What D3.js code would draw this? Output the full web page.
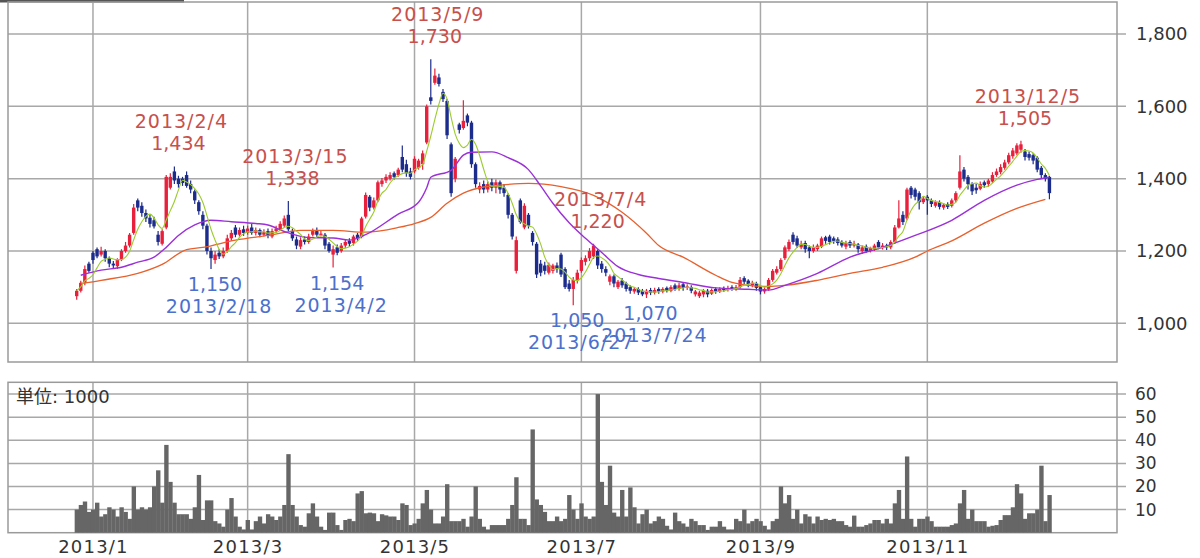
<!DOCTYPE html>
<html><head><meta charset="utf-8">
<script src="https://cdn.jsdelivr.net/npm/d3@7"></script>
<style>body{margin:0;background:#fff}svg{display:block}</style>
</head><body><svg id="c" width="1200" height="558"></svg>
<script>
// ---- categories: Tokyo trading days 2012-12-25 .. 2013-12-16
const firstDay = "2012-12-25", lastDay = "2013-12-16";
const holidays = ["2012-12-31","2013-01-01","2013-01-02","2013-01-03","2013-01-14","2013-02-11","2013-03-20","2013-04-29","2013-05-03","2013-05-06","2013-07-15","2013-09-16","2013-09-23","2013-10-14","2013-11-04","2013-12-23"];

// ---- series values (one entry per trading day)
const opens = [1075,1090,1112,1165,1195,1205,1190,1200,1180,1165,1158,1178,1200,1215,1250,1340,1325,1305,1292,1285,1245,1220,1265,1375,1420,1400,1400,1410,1385,1365,1335,1300,1270,1200,1175,1195,1185,1200,1235,1265,1245,1260,1250,1265,1250,1258,1245,1255,1240,1255,1260,1270,1300,1255,1232,1212,1232,1225,1245,1255,1245,1245,1220,1190,1210,1200,1215,1228,1222,1245,1240,1295,1350,1320,1340,1385,1395,1400,1415,1410,1460,1440,1420,1420,1430,1440,1500,1625,1665,1680,1640,1615,1495,1400,1550,1540,1575,1555,1440,1370,1385,1370,1390,1375,1390,1375,1355,1300,1145,1340,1265,1300,1250,1220,1165,1160,1140,1145,1160,1190,1150,1110,1095,1120,1145,1170,1180,1185,1200,1165,1150,1115,1130,1100,1118,1110,1100,1088,1095,1090,1080,1092,1085,1095,1088,1098,1090,1105,1095,1108,1098,1100,1080,1075,1080,1090,1082,1095,1088,1098,1092,1100,1095,1100,1125,1118,1105,1110,1100,1088,1095,1120,1140,1150,1180,1205,1245,1235,1210,1222,1210,1200,1205,1212,1238,1240,1235,1232,1225,1212,1225,1215,1218,1200,1212,1200,1205,1225,1208,1215,1210,1225,1265,1300,1290,1375,1370,1360,1335,1350,1340,1325,1335,1320,1330,1325,1340,1375,1425,1405,1385,1375,1372,1390,1385,1392,1410,1418,1430,1445,1462,1470,1480,1475,1468,1465,1458,1430,1410,1405];
const highs = [1095,1118,1160,1170,1200,1210,1212,1205,1185,1172,1180,1205,1225,1250,1330,1345,1335,1315,1300,1295,1255,1260,1410,1415,1434,1408,1405,1420,1395,1370,1340,1310,1275,1210,1200,1205,1210,1245,1258,1272,1265,1270,1270,1275,1265,1262,1260,1262,1262,1270,1282,1298,1338,1262,1240,1238,1240,1248,1262,1265,1255,1250,1225,1215,1218,1222,1232,1235,1245,1250,1295,1362,1355,1348,1395,1402,1412,1418,1420,1430,1492,1452,1430,1462,1455,1478,1605,1730,1705,1690,1648,1620,1500,1460,1555,1617,1580,1560,1445,1390,1395,1392,1400,1398,1395,1385,1360,1305,1240,1345,1332,1305,1255,1225,1175,1170,1168,1165,1168,1195,1155,1120,1128,1148,1182,1188,1208,1220,1205,1172,1158,1135,1135,1120,1125,1115,1105,1100,1100,1095,1095,1098,1098,1100,1100,1102,1105,1110,1112,1112,1108,1105,1092,1090,1095,1095,1096,1100,1100,1102,1104,1105,1106,1128,1130,1122,1118,1115,1105,1100,1125,1150,1158,1180,1215,1232,1252,1242,1228,1228,1215,1218,1220,1240,1242,1245,1240,1238,1230,1228,1230,1228,1222,1215,1218,1212,1220,1230,1222,1220,1230,1272,1340,1310,1375,1380,1375,1365,1352,1355,1345,1340,1340,1332,1335,1345,1365,1465,1432,1410,1390,1385,1392,1395,1400,1418,1428,1440,1452,1472,1485,1498,1505,1482,1475,1470,1462,1435,1415,1408];
const lows = [1065,1085,1105,1140,1165,1180,1185,1170,1155,1150,1150,1172,1195,1210,1245,1310,1295,1280,1265,1262,1215,1215,1260,1370,1385,1375,1380,1375,1360,1330,1300,1260,1190,1150,1165,1178,1180,1195,1228,1238,1240,1242,1245,1245,1243,1238,1240,1235,1235,1250,1255,1265,1255,1228,1205,1205,1218,1220,1240,1238,1240,1205,1195,1154,1188,1195,1208,1212,1215,1228,1235,1290,1310,1315,1335,1378,1388,1395,1398,1405,1418,1405,1398,1415,1425,1425,1495,1605,1660,1655,1612,1510,1350,1390,1525,1535,1545,1430,1375,1360,1360,1362,1365,1360,1358,1350,1290,1232,1138,1275,1260,1262,1215,1125,1130,1135,1135,1138,1140,1128,1095,1088,1050,1110,1140,1160,1172,1178,1150,1140,1130,1105,1100,1095,1098,1088,1082,1082,1078,1075,1070,1078,1080,1082,1083,1085,1086,1090,1090,1090,1092,1083,1074,1070,1072,1072,1078,1082,1084,1087,1088,1090,1090,1096,1108,1100,1100,1090,1080,1082,1090,1115,1135,1145,1175,1200,1218,1208,1205,1195,1180,1195,1200,1208,1220,1218,1220,1215,1210,1205,1208,1210,1195,1192,1195,1196,1200,1205,1204,1203,1205,1220,1262,1272,1285,1345,1340,1315,1330,1300,1322,1320,1315,1314,1316,1320,1335,1370,1392,1370,1355,1358,1368,1375,1378,1388,1405,1412,1425,1440,1455,1465,1472,1450,1450,1440,1418,1400,1392,1343];
const closes = [1090,1112,1150,1145,1175,1185,1200,1180,1165,1160,1175,1200,1215,1245,1320,1320,1305,1290,1275,1268,1225,1255,1405,1405,1395,1385,1388,1380,1370,1340,1310,1270,1200,1180,1190,1185,1200,1235,1250,1245,1258,1250,1262,1250,1258,1245,1252,1242,1255,1262,1275,1290,1260,1235,1215,1230,1225,1240,1255,1245,1248,1215,1200,1205,1195,1215,1225,1220,1240,1235,1290,1355,1320,1340,1390,1395,1405,1410,1405,1425,1425,1415,1405,1455,1450,1470,1600,1615,1685,1662,1620,1520,1360,1455,1535,1560,1555,1440,1385,1380,1370,1385,1375,1390,1370,1360,1300,1240,1230,1280,1325,1270,1225,1135,1140,1145,1162,1160,1150,1135,1100,1095,1120,1140,1175,1180,1200,1215,1160,1150,1140,1130,1110,1115,1105,1095,1090,1095,1085,1080,1090,1085,1092,1088,1095,1090,1100,1095,1105,1098,1102,1090,1088,1085,1090,1080,1092,1088,1095,1092,1098,1095,1100,1120,1115,1108,1112,1098,1088,1095,1120,1145,1150,1175,1210,1225,1225,1215,1220,1205,1200,1210,1215,1235,1228,1225,1228,1222,1215,1222,1215,1220,1205,1210,1200,1208,1215,1210,1215,1210,1225,1265,1290,1280,1370,1355,1350,1335,1345,1340,1330,1335,1322,1328,1322,1340,1360,1420,1400,1385,1365,1368,1385,1382,1395,1410,1420,1432,1445,1465,1478,1492,1495,1460,1458,1450,1425,1410,1400,1360];
const volumes = [10,12,13.5,9,10,13,7,8,11,10,7,11,9,6,20,10,11,10,11,20,27,13,38,22,13,8,8,8,6,11,25,5.5,14,14,5,4,2.6,10,15,7,2.6,1.4,5.5,1.4,5,7,4,8,7,5.5,7,12,34,12,7,3.3,2.6,8.4,12.7,7,2.6,1.2,8.7,8.7,3.3,1.2,5.5,6,5,17,18,8.4,8.7,8.4,5,8,7.5,7,7,5.5,12.7,12,3.3,4,6,12.7,18.5,10,4,4,7,21,5,5,5,6,2.6,7,20,6,2.6,1.4,3.3,3.3,3.3,3.3,6,12,24,6,6,3.3,44.7,14.4,12,9,5,5,7,5,6,16.3,10,6,12.7,7,6,7,60,
22,12,29,8.7,7,18.5,7,19.6,11,4,8,10,4,5,7,6,3,1.4,8.7,5,4,2.6,6,5,3.3,3.3,1.2,2.6,2.6,5,2.6,1.4,1.4,6,5,10,4,5,6,5,3,1.4,5,6,20,12.7,16.3,6,10,4,8,7,4,7,5.5,6,5.5,6,5,5,3.3,2.6,7.4,2.6,2.6,3.3,4,5.5,5.5,4,6,4,12.7,18.5,6,33,6,2.6,6,6,7,5,2.6,2.6,2.6,2.6,3.3,4,12.7,18.5,6,10,5,5,5,2.6,3,3.3,5.5,7.6,7.6,11,21,17,6,8.4,8.4,10,29,5,16.3];

// moving averages (trading-day index, value)
const ma25Index = [1,6,11,15,19,22,25,29,33,38,44,47,51,57,63,67,71,79,84,86,87,92,95,97,102,106,111,114,117,121,125,129,133,138,143,149,157,165,170,174,182,190,198,206,215,223,231,236,239];
const ma25Value = [1133,1147,1155,1169,1183,1210,1243,1272,1285,1281,1276,1272,1254,1237,1236,1230,1245,1302,1335,1375,1404,1423,1465,1473,1474,1458,1425,1380,1332,1278,1235,1196,1157,1135,1124,1113,1098,1094,1092,1105,1138,1183,1210,1243,1285,1340,1382,1398,1404];
const ma75Index = [1,6,15,21,27,31,39,47,55,63,71,79,83,87,91,95,100,104,111,119,127,134,140,143,149,157,161,165,170,174,182,190,198,206,209,215,223,231,238];
const ma75Value = [1110,1119,1138,1163,1204,1210,1230,1243,1257,1257,1252,1265,1276,1293,1332,1360,1377,1382,1387,1378,1354,1307,1249,1215,1183,1133,1113,1105,1102,1105,1119,1138,1155,1183,1200,1228,1277,1318,1343];

const priceTicks = [1000,1200,1400,1600,1800];
const volumeTicks = [10,20,30,40,50,60];
const monthTickDates = ["2013-01-04","2013-03-01","2013-05-01","2013-07-01","2013-09-02","2013-11-01"];
const monthTickLabels = ["2013/1","2013/3","2013/5","2013/7","2013/9","2013/11"];
const highNoteDates = ["2013-02-04","2013-03-15","2013-05-09","2013-07-04","2013-12-05"];
const highNoteLabels = ["2013/2/4","2013/3/15","2013/5/9","2013/7/4","2013/12/5"];
const lowNoteDates = ["2013-02-18","2013-04-02","2013-06-27","2013-07-24"];
const lowNoteLabels = ["2013/2/18","2013/4/2","2013/6/27","2013/7/24"];
const volumeUnit = "単位: 1000";

// ---- build trading dates
const fmt = d3.utcFormat("%Y-%m-%d");
const dates = d3.utcDays(new Date(firstDay+"T00:00Z"), d3.utcDay.offset(new Date(lastDay+"T00:00Z"),1))
  .filter(d => d.getUTCDay()!==0 && d.getUTCDay()!==6 && !holidays.includes(fmt(d))).map(fmt);
const data = dates.map((d,i)=>({date:d,i,o:opens[i],h:highs[i],l:lows[i],c:closes[i],v:volumes[i]}));

const svg = d3.select("#c");
const L = 8, R = 1117, PT = 2, PB = 362, VT = 382.3, VB = 532.7;
const step = 4.07;
const x = d3.scalePoint().domain(dates).range([76.7, 76.7 + step*(dates.length-1)]);
const xi = d3.scaleLinear().domain([0, dates.length-1]).range([76.7, 76.7 + step*(dates.length-1)]);
const yp = d3.scaleLinear().domain([893, 1888.6]).range([PB, PT]);
const yv = d3.scaleLinear().domain([0, 65.1]).range([VB, VT]);
const gridC = "#a8a8a8", font = "DejaVu Sans";

svg.append("rect").attr("x",0).attr("y",0).attr("width",1200).attr("height",558).attr("fill","#fff");
svg.append("rect").attr("x",0).attr("y",0).attr("width",184).attr("height",2.5).attr("fill","#555");

// grids
function grid(top, bottom, yScale, ticks){
  const g = svg.append("g");
  g.selectAll(".h").data(ticks).join("line").attr("x1",L).attr("x2",R+9)
    .attr("y1",d=>yScale(d)).attr("y2",d=>yScale(d)).attr("stroke",gridC).attr("stroke-width",1.5);
  g.selectAll(".v").data(monthTickDates).join("line").attr("x1",d=>x(d)).attr("x2",d=>x(d))
    .attr("y1",top).attr("y2",bottom).attr("stroke",gridC).attr("stroke-width",1.5);
  g.append("rect").attr("x",L).attr("y",top).attr("width",R-L).attr("height",bottom-top)
    .attr("fill","none").attr("stroke","#9a9a9a").attr("stroke-width",1.5);
}
grid(PT, PB, yp, priceTicks);
grid(VT, VB, yv, volumeTicks);

// right axes
const pa = svg.append("g").attr("transform",`translate(${R},0)`)
  .call(d3.axisRight(yp).tickValues(priceTicks).tickFormat(d3.format(",")).tickSize(0).tickPadding(19));
pa.select(".domain").remove();
pa.selectAll("text").attr("font-family",font).attr("font-size",18).attr("fill","#333");
const va = svg.append("g").attr("transform",`translate(${R},0)`)
  .call(d3.axisRight(yv).tickValues(volumeTicks).tickSize(0).tickPadding(18));
va.select(".domain").remove();
va.selectAll("text").attr("font-family",font).attr("font-size",17).attr("fill","#333");

// bottom axis
const xa = svg.append("g").attr("transform",`translate(0,${VB})`)
  .call(d3.axisBottom(x).tickValues(monthTickDates).tickFormat((d,i)=>monthTickLabels[i]).tickSize(0).tickPadding(8));
xa.select(".domain").remove();
xa.selectAll("text").attr("font-family",font).attr("font-size",18).attr("fill","#333").attr("letter-spacing","1.2px");

// volume bars
svg.append("g").selectAll("rect").data(data).join("rect")
  .attr("x",d=>x(d.date)-step/2).attr("width",step+0.3)
  .attr("y",d=>yv(d.v)).attr("height",d=>VB-yv(d.v)).attr("fill","#666");
svg.append("text").attr("x",16).attr("y",403).attr("font-family","DejaVu Sans, Noto Sans CJK JP")
  .attr("font-size",18).attr("fill","#333").text(volumeUnit);

// candles
const upC = "#e8203c", dnC = "#1c2c8c";
const cg = svg.append("g");
cg.selectAll("line").data(data).join("line")
  .attr("x1",d=>x(d.date)).attr("x2",d=>x(d.date)).attr("y1",d=>yp(d.h)).attr("y2",d=>yp(d.l))
  .attr("stroke",d=>d.c>=d.o?upC:dnC).attr("stroke-width",1.2);
cg.selectAll("rect").data(data).join("rect")
  .attr("x",d=>x(d.date)-1.7).attr("width",3.4)
  .attr("y",d=>yp(Math.max(d.o,d.c))).attr("height",d=>Math.max(1.2,Math.abs(yp(d.o)-yp(d.c))))
  .attr("fill",d=>d.c>=d.o?upC:dnC);

// moving averages
const ma5 = data.map((d,i)=>{const s=closes.slice(Math.max(0,i-4),i+1);return {i,v:d3.mean(s)};});
const line = d3.line().x(d=>xi(d.i)).y(d=>yp(d.v)).curve(d3.curveMonotoneX);
const ma25 = ma25Index.map((k,j)=>({i:k,v:ma25Value[j]}));
const ma75 = ma75Index.map((k,j)=>({i:k,v:ma75Value[j]}));
svg.append("path").datum(ma75).attr("d",line).attr("fill","none").attr("stroke","#e8602c").attr("stroke-width",1.3);
svg.append("path").datum(ma25).attr("d",line).attr("fill","none").attr("stroke","#9b30d8").attr("stroke-width",1.4);
svg.append("path").datum(ma5).attr("d",line).attr("fill","none").attr("stroke","#9ccc2c").attr("stroke-width",1.1);

// annotations
const hiC = "#c8504c", loC = "#4c70cc";
const byDate = new Map(data.map(d=>[d.date,d]));
highNoteDates.forEach((dt,k)=>{
  const d = byDate.get(dt), cx = x(dt)+4, yb = yp(d.h)-16;
  svg.append("text").attr("x",cx).attr("y",yb).attr("text-anchor","middle").attr("font-family",font)
    .attr("font-size",19).attr("fill",hiC).text(d3.format(",")(d.h));
  svg.append("text").attr("x",cx+3).attr("y",yb-22).attr("text-anchor","middle").attr("font-family",font)
    .attr("font-size",19).attr("letter-spacing","1px").attr("fill",hiC).text(highNoteLabels[k]);
});
lowNoteDates.forEach((dt,k)=>{
  const d = byDate.get(dt), cx = x(dt)+4, yb = yp(d.l)+22;
  svg.append("text").attr("x",cx).attr("y",yb).attr("text-anchor","middle").attr("font-family",font)
    .attr("font-size",19).attr("fill",loC).text(d3.format(",")(d.l));
  svg.append("text").attr("x",cx+4).attr("y",yb+22).attr("text-anchor","middle").attr("font-family",font)
    .attr("font-size",19).attr("letter-spacing","1px").attr("fill",loC).text(lowNoteLabels[k]);
});
</script></body></html>
